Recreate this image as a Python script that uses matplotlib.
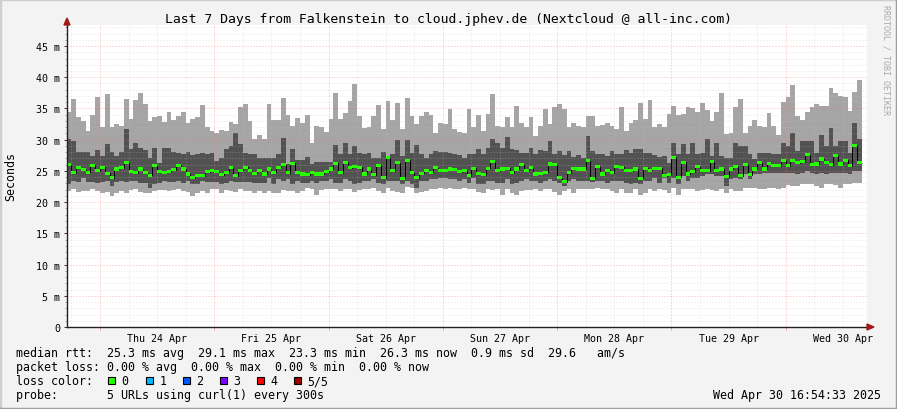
import numpy as np
import matplotlib
matplotlib.use('Agg')
import matplotlib.pyplot as plt
from matplotlib.patches import Rectangle, Polygon
from matplotlib.lines import Line2D

# hourly consolidated values in ms, one bar per hour (Apr 23 17:00 .. Apr 30 16:00)
rtt_max = [
    34.5, 36.5, 33.6, 33.0, 31.4, 34.0, 36.9, 32.1, 37.3, 32.1, 32.5, 32.2, 36.5, 33.3,
    36.3, 37.4, 35.7, 33.0, 33.7, 33.8, 32.8, 34.5, 33.1, 33.8, 34.5, 32.6, 33.3, 33.7,
    35.6, 32.0, 31.4, 31.0, 31.5, 31.4, 32.8, 32.5, 35.2, 35.7, 33.0, 30.1, 30.7, 30.1,
    35.7, 33.1, 33.1, 36.6, 34.0, 32.2, 33.4, 32.7, 34.0, 29.5, 32.2, 32.0, 31.3, 33.3,
    37.4, 33.3, 34.2, 36.2, 38.9, 33.8, 31.8, 32.0, 33.8, 35.5, 31.7, 36.2, 33.1, 35.8,
    31.7, 36.6, 33.8, 32.5, 33.8, 34.5, 34.0, 31.0, 32.6, 32.5, 34.9, 31.7, 31.3, 31.0,
    34.9, 32.0, 34.0, 31.4, 34.1, 37.3, 32.2, 32.0, 33.7, 32.0, 35.4, 32.6, 32.0, 33.7,
    30.6, 32.2, 34.9, 32.5, 35.2, 35.7, 34.9, 32.0, 32.7, 32.2, 32.1, 33.8, 33.8, 32.2,
    32.4, 32.7, 32.2, 31.7, 35.3, 31.4, 32.7, 33.1, 35.8, 33.3, 36.3, 32.0, 32.5, 32.0,
    34.1, 35.4, 34.0, 34.1, 35.2, 35.0, 34.5, 35.8, 34.7, 33.0, 34.4, 37.5, 30.9, 31.1,
    35.2, 36.5, 31.1, 32.2, 33.1, 32.2, 32.1, 34.2, 32.2, 30.7, 36.0, 36.9, 38.7, 33.8,
    33.2, 34.5, 35.2, 35.7, 35.4, 35.4, 38.3, 37.4, 37.0, 36.9, 34.6, 37.6, 39.5,
]
rtt_hi = [
    30.1, 29.8, 28.1, 28.1, 28.1, 27.4, 28.3, 27.4, 29.3, 28.1, 27.4, 28.1, 31.7, 28.5,
    29.4, 28.7, 28.3, 27.1, 28.6, 26.3, 28.7, 28.7, 28.1, 27.9, 27.7, 28.1, 27.6, 27.7,
    27.9, 27.7, 27.8, 26.6, 27.1, 28.5, 29.0, 31.1, 29.3, 27.9, 27.7, 27.7, 27.1, 27.1,
    27.1, 27.0, 27.7, 30.2, 26.1, 28.5, 26.7, 26.7, 27.2, 26.1, 26.5, 26.5, 26.5, 26.5,
    29.2, 27.7, 29.5, 27.7, 29.0, 27.8, 27.7, 27.9, 27.1, 27.1, 28.1, 27.4, 27.7, 29.9,
    27.4, 29.9, 27.9, 29.2, 27.7, 27.1, 27.7, 28.2, 28.1, 28.1, 27.8, 27.7, 27.6, 27.1,
    27.7, 27.7, 28.5, 27.7, 28.6, 30.1, 29.4, 28.6, 30.4, 28.5, 28.3, 27.9, 27.9, 28.7,
    27.7, 28.3, 28.2, 29.8, 27.7, 28.2, 27.6, 28.2, 27.2, 27.6, 27.1, 30.6, 28.2, 27.7,
    27.7, 27.4, 28.2, 27.7, 27.7, 28.3, 27.8, 28.5, 28.5, 27.9, 27.9, 27.6, 27.2, 27.4,
    26.3, 29.5, 27.7, 29.3, 27.7, 29.5, 27.7, 27.9, 30.1, 27.4, 29.4, 27.4, 27.1, 27.1,
    29.5, 29.0, 29.0, 27.7, 26.9, 27.9, 27.9, 27.9, 27.7, 27.7, 29.5, 29.0, 31.1, 28.2,
    29.8, 29.8, 29.8, 27.9, 30.8, 29.0, 31.9, 29.0, 29.8, 29.8, 27.9, 32.6, 30.1,
]
rtt_median = [
    26.0, 24.7, 25.5, 25.2, 24.8, 25.9, 25.0, 25.6, 24.6, 23.9, 25.3, 25.5, 26.4, 24.9,
    24.7, 25.3, 24.7, 24.3, 25.8, 24.9, 24.8, 24.9, 25.2, 25.9, 25.3, 24.5, 23.9, 24.2,
    24.2, 24.9, 25.1, 24.9, 24.4, 24.8, 25.5, 24.2, 25.1, 25.6, 25.0, 24.6, 25.0, 24.5,
    25.3, 24.8, 25.6, 26.0, 24.7, 26.2, 24.8, 24.5, 24.4, 24.8, 24.5, 24.5, 24.9, 25.3,
    26.2, 24.7, 26.4, 25.5, 25.7, 25.6, 24.5, 25.3, 24.4, 25.9, 23.9, 27.1, 25.0, 26.3,
    23.8, 26.7, 24.7, 23.9, 24.6, 25.1, 24.8, 25.5, 25.0, 25.1, 25.3, 25.2, 24.9, 25.1,
    24.2, 25.4, 24.6, 24.4, 25.4, 26.5, 25.0, 25.3, 25.4, 24.7, 25.3, 26.0, 25.0, 25.5,
    24.5, 24.6, 24.8, 26.1, 26.0, 23.9, 23.3, 24.7, 25.4, 25.3, 25.3, 26.6, 23.8, 25.7,
    24.5, 25.1, 24.7, 25.7, 25.6, 25.0, 25.0, 25.3, 23.8, 25.4, 25.1, 25.4, 25.4, 24.2,
    24.4, 27.2, 24.0, 26.4, 24.5, 24.9, 25.7, 25.0, 25.0, 26.5, 25.1, 25.3, 24.1, 25.3,
    25.7, 24.2, 26.0, 24.4, 25.3, 26.3, 25.3, 26.2, 25.9, 25.8, 26.6, 25.8, 26.6, 26.3,
    26.5, 27.6, 26.0, 26.1, 26.9, 26.3, 26.0, 27.4, 26.1, 26.7, 25.8, 29.1, 26.3,
]
rtt_lo = [
    22.9, 23.4, 23.3, 23.9, 23.3, 23.3, 23.0, 23.3, 23.4, 22.6, 23.3, 23.4, 23.3, 23.4,
    23.4, 23.1, 23.1, 22.3, 22.9, 23.1, 23.4, 23.3, 23.3, 23.4, 23.1, 23.4, 22.9, 22.9,
    23.4, 23.3, 23.3, 23.3, 22.9, 23.1, 23.4, 23.3, 23.3, 23.3, 23.3, 23.1, 23.1, 23.1,
    23.9, 22.9, 23.7, 23.4, 23.7, 22.9, 23.4, 23.1, 23.1, 23.4, 23.1, 23.4, 23.4, 23.7,
    23.1, 23.1, 23.7, 23.4, 22.9, 23.1, 23.4, 23.4, 23.7, 23.1, 22.9, 23.4, 23.4, 23.4,
    22.9, 23.4, 22.9, 22.3, 23.4, 23.4, 23.7, 23.7, 23.8, 23.8, 23.7, 23.7, 23.4, 23.7,
    23.1, 23.9, 22.9, 22.9, 23.4, 23.4, 23.1, 23.0, 23.7, 22.9, 23.1, 23.4, 23.7, 23.4,
    23.4, 23.1, 23.4, 23.7, 23.4, 23.1, 22.6, 23.4, 23.7, 23.4, 23.4, 23.4, 23.2, 23.4,
    23.4, 23.1, 23.4, 23.4, 23.4, 23.1, 22.9, 23.1, 22.9, 23.4, 23.4, 23.9, 23.1, 23.9,
    23.1, 23.9, 22.9, 24.2, 23.4, 23.9, 23.9, 24.2, 24.5, 24.5, 24.2, 24.2, 22.6, 23.7,
    23.9, 23.7, 24.5, 23.7, 24.5, 24.5, 24.6, 24.6, 24.6, 24.7, 24.7, 24.7, 24.7, 24.5,
    24.7, 25.0, 24.7, 24.5, 24.7, 24.5, 24.6, 24.7, 24.7, 24.7, 24.5, 25.0, 25.0,
]
rtt_min = [
    21.8, 22.1, 21.7, 21.8, 21.8, 22.1, 21.8, 21.5, 21.7, 21.0, 21.4, 21.8, 21.5, 21.9,
    22.1, 21.7, 21.4, 21.5, 21.8, 21.9, 21.9, 21.8, 21.9, 22.1, 21.8, 21.7, 21.0, 21.4,
    21.8, 21.5, 22.1, 22.1, 21.5, 21.9, 21.8, 21.7, 22.1, 21.8, 21.8, 21.5, 21.8, 21.5,
    21.8, 21.5, 21.5, 21.9, 21.8, 21.8, 21.4, 21.8, 22.3, 22.1, 21.2, 21.9, 22.1, 22.1,
    22.1, 21.8, 22.1, 22.1, 21.7, 21.9, 22.1, 22.1, 22.3, 21.8, 21.5, 22.3, 21.8, 21.7,
    21.5, 22.4, 22.3, 21.5, 21.7, 21.8, 22.1, 22.1, 22.2, 22.1, 22.3, 22.1, 22.1, 22.3,
    22.1, 22.1, 21.7, 21.5, 22.1, 21.9, 22.1, 21.2, 22.1, 21.4, 21.2, 21.8, 21.9, 21.9,
    22.1, 21.8, 22.1, 22.1, 21.7, 21.2, 21.8, 22.1, 21.5, 22.1, 22.1, 22.1, 22.1, 22.3,
    22.1, 22.1, 21.8, 21.5, 22.1, 21.5, 21.5, 22.1, 21.2, 21.5, 22.1, 21.8, 22.1, 21.9,
    21.5, 22.3, 21.2, 22.1, 22.1, 22.1, 21.8, 21.9, 22.1, 21.9, 21.8, 22.1, 21.5, 22.1,
    21.8, 21.8, 22.3, 22.2, 22.2, 22.1, 22.1, 22.3, 22.3, 22.1, 22.3, 22.7, 22.6, 22.6,
    22.9, 22.9, 22.9, 22.6, 22.3, 22.9, 22.9, 22.7, 22.3, 22.9, 22.9, 23.1, 23.1,
]

day_labels = ['Thu 24 Apr', 'Fri 25 Apr', 'Sat 26 Apr', 'Sun 27 Apr',
              'Mon 28 Apr', 'Tue 29 Apr', 'Wed 30 Apr']
y_labels = ['0', '5 m', '10 m', '15 m', '20 m', '25 m', '30 m', '35 m', '40 m', '45 m']
loss_colors = ['#26ff00', '#00b8ff', '#0059ff', '#7e00ff', '#ff0000', '#a10000']
loss_names = ['0', '1', '2', '3', '4', '5/5']

W, H = 897, 410
MONO = 'DejaVu Sans Mono'


def fx(x):
    return x / W


def fy(y):
    return 1 - y / H


fig = plt.figure(figsize=(W / 100, H / 100), dpi=100, facecolor='#f3f3f3')
ax = fig.add_axes([fx(67), fy(328), 800 / W, 302 / H])
ax.set_facecolor('white')

# hours relative to Thu 24 Apr 00:00
start_hour = -7
hours = start_hour + np.arange(len(rtt_median))
x0 = -6.93
ax.set_xlim(x0, x0 + 168)
ax.set_ylim(0, 302 / 6.244)

mx = np.array(rtt_max)
hi = np.array(rtt_hi)
md = np.array(rtt_median)
lo = np.array(rtt_lo)
mn = np.array(rtt_min)

ax.bar(hours, mx - mn, bottom=mn, width=1, align='edge', color='#a5a5a5',
       linewidth=0, zorder=2, antialiased=False)
ax.bar(hours, hi - lo, bottom=lo, width=1, align='edge', color='#525252',
       linewidth=0, zorder=2.1, antialiased=False)

# grid on top of the smoke, half transparent like rrdtool
gcol = (0.75, 0.75, 0.75, 0.4)
mcol = (0.96, 0.45, 0.45, 0.5)
dots = (0, (1, 2))
for v in range(1, 49):
    ax.axhline(v, color=mcol if v % 5 == 0 else gcol, lw=0.72, ls=dots, zorder=2.5)
for h in range(-6, 162, 6):
    ax.axvline(h, color=mcol if h % 24 == 0 else gcol, lw=0.72, ls=dots, zorder=2.5)

# median: black step line with green loss-colour marks
edges = np.append(hours, hours[-1] + 1)
ax.stairs(md, edges, color='black', lw=0.72, zorder=3, baseline=None)
ax.bar(hours, 0.5, bottom=md - 0.25, width=1, align='edge', color=loss_colors[0],
       linewidth=0, zorder=3.1, antialiased=False)

for side in ['top', 'right']:
    ax.spines[side].set_visible(False)
for side in ['left', 'bottom']:
    ax.spines[side].set_color('#222222')
    ax.spines[side].set_linewidth(1)
    ax.spines[side].set_zorder(4)

ax.set_yticks(np.arange(0, 46, 5))
ax.set_yticklabels(y_labels)
ax.set_yticks(np.arange(1, 49), minor=True)
ax.set_xticks(np.arange(12, 160, 24))
ax.set_xticklabels(day_labels)
ax.set_xticks(np.arange(0, 162, 24), minor=True)
ax.tick_params(axis='y', which='major', length=2.5, width=0.7, pad=2.6,
               labelsize=7.2, color='#333333')
ax.tick_params(axis='y', which='minor', length=1.5, width=0.7, color='#aaaaaa')
ax.tick_params(axis='x', which='major', length=0, pad=4.0, labelsize=7.2)
ax.tick_params(axis='x', which='minor', length=2, width=0.7, color='#f0a0a0')
for lab in ax.get_xticklabels() + ax.get_yticklabels():
    lab.set_family(MONO)

# arrows at the ends of the axes
arrow = '#a11a1a'
fig.patches.append(Polygon([(fx(867), fy(325)), (fx(867), fy(331)), (fx(874), fy(328))],
                           closed=True, transform=fig.transFigure, color=arrow))
fig.patches.append(Polygon([(fx(64), fy(26)), (fx(70), fy(26)), (fx(67), fy(19))],
                           closed=True, transform=fig.transFigure, color=arrow))

fig.text(fx(448), fy(19), 'Last 7 Days from Falkenstein to cloud.jphev.de (Nextcloud @ all-inc.com)',
         family=MONO, fontsize=9.45, ha='center', va='center')
fig.text(fx(11), fy(177), 'Seconds', family=MONO, fontsize=8.4, rotation=90,
         ha='center', va='center')
fig.text(fx(886), fy(5), 'RRDTOOL / TOBI OETIKER', family=MONO, fontsize=6.0,
         rotation=270, ha='center', va='top', color='#aaaaaa')

legend_lines = [
    (354, 'median rtt:  25.3 ms avg  29.1 ms max  23.3 ms min  26.3 ms now  0.9 ms sd  29.6   am/s'),
    (368, 'packet loss: 0.00 % avg  0.00 % max  0.00 % min  0.00 % now'),
    (382, 'loss color:'),
    (396, 'probe:       5 URLs using curl(1) every 300s'),
]
for yy, s in legend_lines:
    fig.text(fx(16), fy(yy), s, family=MONO, fontsize=8.37, ha='left', va='center')

box_x = [108, 146, 183, 219.5, 257, 293.5]
for bx, col, name in zip(box_x, loss_colors, loss_names):
    fig.patches.append(Rectangle((fx(bx), fy(384.5)), 7 / W, 7 / H, transform=fig.transFigure,
                                 facecolor=col, edgecolor='black', linewidth=0.8))
    fig.text(fx(bx + 13.5), fy(382), name, family=MONO, fontsize=8.37, ha='left', va='center')

fig.text(fx(881), fy(396), 'Wed Apr 30 16:54:33 2025', family=MONO, fontsize=8.37,
         ha='right', va='center')

# 3d-ish frame around the image
fig.lines.append(Line2D([0, 0, 1], [0, 1, 1], transform=fig.transFigure,
                        color='#cfcfcf', lw=2.5))
fig.lines.append(Line2D([0, 1, 1], [0, 0, 1], transform=fig.transFigure,
                        color='#9e9e9e', lw=2.5))

fig.savefig('out.png', dpi=100, facecolor=fig.get_facecolor())
